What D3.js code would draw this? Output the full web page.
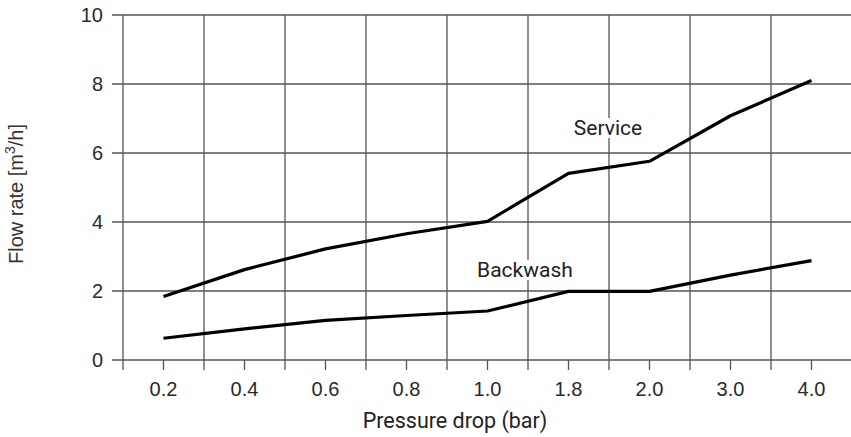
<!DOCTYPE html>
<html>
<head>
<meta charset="utf-8">
<script src="https://cdn.jsdelivr.net/npm/d3@7"></script>
<style>
  body { margin: 0; background: #fff; }
</style>
</head>
<body>
<div id="chart"></div>
<script>
// categories on the x axis (pressure drop, bar)
let pressure = ["0.2", "0.4", "0.6", "0.8", "1.0", "1.8", "2.0", "3.0", "4.0"];
// flow rate, m3/h
let service = [1.84, 2.62, 3.22, 3.66, 4.02, 5.41, 5.76, 7.08, 8.1];
let backwash = [0.63, 0.9, 1.15, 1.29, 1.42, 1.99, 1.99, 2.46, 2.88];
let yTicks = [0, 2, 4, 6, 8, 10];

let width = 851, height = 437;
let margin = {top: 15, right: -1, bottom: 77, left: 123};

let svg = d3.select("#chart").append("svg")
    .attr("width", width)
    .attr("height", height);

let x = d3.scaleBand()
    .domain(pressure)
    .range([margin.left, width - margin.right]);

let y = d3.scaleLinear()
    .domain([0, 10])
    .range([height - margin.bottom, margin.top]);

let gridColor = "#555";
let tickFont = "Liberation Sans, Arial, sans-serif";
let labelFont = "Roboto, sans-serif";

// horizontal grid + y tick labels
let yg = svg.append("g").attr("class", "y-grid");
yg.selectAll("line")
    .data(yTicks)
    .join("line")
    .attr("x1", margin.left - 11)
    .attr("x2", width)
    .attr("y1", d => y(d))
    .attr("y2", d => y(d))
    .attr("stroke", gridColor)
    .attr("stroke-width", 1.3);
yg.selectAll("text")
    .data(yTicks)
    .join("text")
    .attr("x", margin.left - 20)
    .attr("y", d => y(d))
    .attr("dy", "0.35em")
    .attr("text-anchor", "end")
    .attr("font-family", tickFont)
    .attr("font-size", "20px")
    .attr("fill", "#2a2a2a")
    .text(d => d);

// vertical grid at band edges
let edges = pressure.map(d => x(d)).concat([x(pressure[pressure.length - 1]) + x.bandwidth()]);
svg.append("g")
    .selectAll("line")
    .data(edges)
    .join("line")
    .attr("x1", d => d)
    .attr("x2", d => d)
    .attr("y1", y(10))
    .attr("y2", y(0) + 10)
    .attr("stroke", gridColor)
    .attr("stroke-width", 1.3);

// x axis: ticks at band centres
let xAxis = d3.axisBottom(x)
    .tickSize(10)
    .tickPadding(12);

svg.append("g")
    .attr("class", "x-axis")
    .attr("transform", `translate(0, ${y(0)})`)
    .call(xAxis)
    .call(g => g.select(".domain").remove())
    .call(g => g.selectAll(".tick line").attr("stroke", gridColor).attr("stroke-width", 1.3))
    .call(g => g.selectAll(".tick text")
        .attr("font-family", tickFont)
        .attr("font-size", "20px")
        .attr("fill", "#2a2a2a"));

// lines
let line = d3.line()
    .x((d, i) => x(pressure[i]) + x.bandwidth() / 2)
    .y(d => y(d));

[service, backwash].forEach(s => {
    svg.append("path")
        .datum(s)
        .attr("fill", "none")
        .attr("stroke", "#000")
        .attr("stroke-width", 3.2)
        .attr("stroke-linejoin", "round")
        .attr("d", line);
});

// series labels with white background
let labels = [
    {text: "Service", x: 608, y: 135},
    {text: "Backwash", x: 525, y: 277}
];
labels.forEach(l => {
    let bg = svg.append("rect").attr("fill", "#fff");
    let t = svg.append("text")
        .attr("x", l.x)
        .attr("y", l.y)
        .attr("text-anchor", "middle")
        .attr("font-family", labelFont)
        .attr("font-size", "21px")
        .attr("fill", "#222")
        .text(l.text);
    let bb = t.node().getBBox();
    bg.attr("x", bb.x - 2)
        .attr("y", bb.y + 2)
        .attr("width", bb.width + 4)
        .attr("height", bb.height - 4);
});

// axis titles
svg.append("text")
    .attr("x", 455)
    .attr("y", 428)
    .attr("text-anchor", "middle")
    .attr("font-family", labelFont)
    .attr("font-size", "21.5px")
    .attr("fill", "#222")
    .text("Pressure drop (bar)");

let yt = svg.append("text")
    .attr("transform", "translate(23, 194) rotate(-90)")
    .attr("text-anchor", "middle")
    .attr("font-family", tickFont)
    .attr("font-size", "20px")
    .attr("fill", "#333");
yt.append("tspan").text("Flow rate [m");
yt.append("tspan").attr("dy", -8).attr("font-size", "14px").text("3");
yt.append("tspan").attr("dy", 8).text("/h]");
</script>
</body>
</html>
